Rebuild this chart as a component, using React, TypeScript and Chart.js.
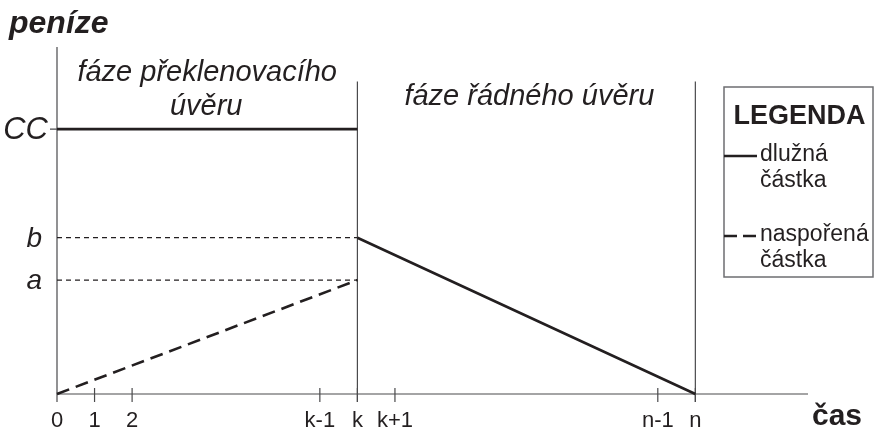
import React, { useEffect, useRef } from 'react';
import { Chart, registerables } from 'chart.js';

Chart.register(...registerables);

// ---- data (schematic units) ----
const K = 8; // position of "k"
const N = 17; // position of "n"
const X_MAX = 20;
const Y_MAX = 131;
const PHASE_LINE_TOP = 118;
const BELOW_AXIS = -3;

const xTickValues = [0, 1, 2, 7, 8, 9, 16, 17];
const xTickLabels = ['0', '1', '2', 'k-1', 'k', 'k+1', 'n-1', 'n'];

const levelLabels = ['CC', 'b', 'a'];
const levelValues = [100, 59, 43];

const debtX = [0, K, K, K, N];
const debtY = [100, 100, null, 59, 0];

const savedX = [0, K];
const savedY = [0, 43];

const phaseX = [K, N];

const yAxisTitle = 'peníze';
const xAxisTitle = 'čas';
const phase1Lines = ['fáze překlenovacího', 'úvěru'];
const phase2Label = 'fáze řádného úvěru';
const legendTitle = 'LEGENDA';
const legendDebt = ['dlužná', 'částka'];
const legendSaved = ['naspořená', 'částka'];

const FONT = '"Liberation Sans", Arial, Helvetica, sans-serif';
const INK = '#231f20';
const AXIS = '#4a4a4c';

const toPts = (xs: number[], ys: (number | null)[]) => xs.map((x, i) => ({ x, y: ys[i] }));

const overlay = {
  id: 'schemeOverlay',
  beforeDatasetsDraw(chart: any) {
    const { ctx, scales } = chart;
    const x = scales.x;
    const y = scales.y;
    const x0 = x.getPixelForValue(0);
    const y0 = y.getPixelForValue(0);
    const yb = y.getPixelForValue(BELOW_AXIS);
    ctx.save();
    ctx.strokeStyle = AXIS;
    ctx.lineWidth = 1.2;
    ctx.beginPath();
    ctx.moveTo(x0, y.getPixelForValue(Y_MAX));
    ctx.lineTo(x0, yb);
    ctx.moveTo(x0, y0);
    ctx.lineTo(x.getPixelForValue(X_MAX), y0);
    xTickValues.forEach((v) => {
      const px = x.getPixelForValue(v);
      ctx.moveTo(px, y0 - 6);
      ctx.lineTo(px, yb);
    });
    const yc = y.getPixelForValue(levelValues[0]);
    ctx.moveTo(x0 - 7, yc);
    ctx.lineTo(x0, yc);
    ctx.stroke();
    ctx.restore();
  },
  afterDraw(chart: any) {
    const { ctx, scales } = chart;
    const x = scales.x;
    const y = scales.y;
    const x0 = x.getPixelForValue(0);
    const y0 = y.getPixelForValue(0);
    ctx.save();
    ctx.fillStyle = INK;

    // axis titles
    ctx.font = `italic bold 32px ${FONT}`;
    ctx.textAlign = 'left';
    ctx.textBaseline = 'alphabetic';
    ctx.fillText(yAxisTitle, 9, 33);

    ctx.font = `bold 30px ${FONT}`;
    ctx.fillText(xAxisTitle, 812, 425);

    // x tick labels
    ctx.font = `22px ${FONT}`;
    ctx.textAlign = 'center';
    xTickValues.forEach((v, i) => {
      ctx.fillText(xTickLabels[i], x.getPixelForValue(v), y0 + 33);
    });

    // level labels
    levelValues.forEach((v, i) => {
      ctx.font = i === 0 ? `italic 31px ${FONT}` : `italic 28px ${FONT}`;
      ctx.textAlign = 'right';
      ctx.textBaseline = 'middle';
      ctx.fillText(levelLabels[i], i === 0 ? x0 - 9 : x0 - 15, y.getPixelForValue(v) + 1);
    });

    // phase labels
    ctx.font = `italic 29px ${FONT}`;
    ctx.textAlign = 'center';
    ctx.textBaseline = 'alphabetic';
    const c1 = (x0 + x.getPixelForValue(K)) / 2;
    ctx.fillText(phase1Lines[0], c1, 81);
    ctx.fillText(phase1Lines[1], c1 - 1, 115);
    const c2 = (x.getPixelForValue(K) + x.getPixelForValue(N)) / 2 + 3;
    ctx.fillText(phase2Label, c2, 105);

    // legend
    const lx = 724;
    const ly = 87;
    const lw = 149;
    const lh = 190;
    ctx.fillStyle = '#ffffff';
    ctx.fillRect(lx, ly, lw, lh);
    ctx.strokeStyle = '#6d6e71';
    ctx.lineWidth = 1.5;
    ctx.strokeRect(lx, ly, lw, lh);
    ctx.fillStyle = INK;
    ctx.font = `bold 27px ${FONT}`;
    ctx.textAlign = 'center';
    ctx.textBaseline = 'middle';
    ctx.fillText(legendTitle, lx + lw / 2 + 1, 117);

    ctx.font = `23px ${FONT}`;
    ctx.textAlign = 'left';
    const tx = lx + 36;
    const r1 = 155;
    const r2 = 181;
    const r3 = 235;
    const r4 = 261;
    ctx.fillText(legendDebt[0], tx, r1);
    ctx.fillText(legendDebt[1], tx, r2);
    ctx.fillText(legendSaved[0], tx, r3);
    ctx.fillText(legendSaved[1], tx, r4);

    ctx.strokeStyle = INK;
    ctx.lineWidth = 2.5;
    ctx.beginPath();
    ctx.moveTo(lx, r1 + 1);
    ctx.lineTo(lx + 33, r1 + 1);
    ctx.stroke();
    ctx.setLineDash([13, 6]);
    ctx.beginPath();
    ctx.moveTo(lx, r3 + 1);
    ctx.lineTo(lx + 32, r3 + 1);
    ctx.stroke();
    ctx.restore();
  },
};

export default function App() {
  const ref = useRef<HTMLCanvasElement | null>(null);

  useEffect(() => {
    if (!ref.current) return;
    const guide = (v: number) => [
      { x: 0, y: v },
      { x: K, y: v },
    ];
    const chart = new Chart(ref.current, {
      type: 'line',
      data: {
        datasets: [
          {
            label: 'dlužná částka',
            data: toPts(debtX, debtY),
            borderColor: INK,
            borderWidth: 2.6,
            pointRadius: 0,
            spanGaps: false,
            clip: false,
          } as any,
          {
            label: 'naspořená částka',
            data: toPts(savedX, savedY),
            borderColor: INK,
            borderWidth: 2.6,
            borderDash: [13, 7],
            pointRadius: 0,
            clip: false,
          } as any,
          ...levelValues.slice(1).map((v) => ({
            label: 'guide',
            data: guide(v),
            borderColor: INK,
            borderWidth: 1.2,
            borderDash: [5, 4],
            pointRadius: 0,
            clip: false,
          })),
          ...phaseX.map((px) => ({
            label: 'phase',
            data: [
              { x: px, y: BELOW_AXIS },
              { x: px, y: PHASE_LINE_TOP },
            ],
            borderColor: AXIS,
            borderWidth: 1.2,
            pointRadius: 0,
            clip: false,
          })),
        ],
      },
      options: {
        responsive: false,
        animation: false,
        devicePixelRatio: 1,
        layout: { padding: { left: 57, right: 71, top: 47, bottom: 37 } },
        scales: {
          x: { type: 'linear', min: 0, max: X_MAX, display: false },
          y: { type: 'linear', min: 0, max: Y_MAX, display: false },
        },
        plugins: {
          legend: { display: false },
          tooltip: { enabled: false },
        },
      },
      plugins: [overlay],
    } as any);
    return () => chart.destroy();
  }, []);

  return (
    <div style={{ position: 'absolute', left: 0, top: 0, width: 879, height: 431, background: '#fff' }}>
      <canvas ref={ref} width={879} height={431} style={{ width: 879, height: 431, display: 'block' }} />
    </div>
  );
}
